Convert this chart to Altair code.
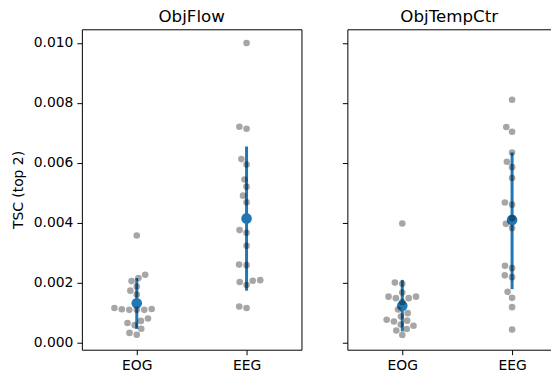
import numpy as np
import pandas as pd
import altair as alt

panels = ["ObjFlow", "ObjTempCtr"]
categories = ["EOG", "EEG"]

eog_flow = [0.00357, 0.00226, 0.00215, 0.00187, 0.00173, 0.00115, 0.00109, 0.00109,
            0.00109, 0.00111, 0.00072, 0.00065, 0.00046, 0.00032, 0.00026,
            0.00205, 0.00160, 0.00112, 0.00080, 0.00058]
eeg_flow = [0.00999, 0.00720, 0.00713, 0.00612, 0.00594, 0.00544, 0.00520, 0.00490,
            0.00468, 0.00375, 0.00366, 0.00323, 0.00260, 0.00258, 0.00202, 0.00192,
            0.00206, 0.00208, 0.00120, 0.00115]
eog_temp = [0.00397, 0.00200, 0.00196, 0.00167, 0.00153, 0.00153, 0.00148, 0.00148,
            0.00135, 0.00110, 0.00098, 0.00087, 0.00076, 0.00073, 0.00070, 0.00060,
            0.00056, 0.00045, 0.00040, 0.00025]
eeg_temp = [0.00810, 0.00719, 0.00703, 0.00634, 0.00603, 0.00585, 0.00549, 0.00467,
            0.00460, 0.00415, 0.00396, 0.00382, 0.00256, 0.00248, 0.00224, 0.00218,
            0.00169, 0.00149, 0.00118, 0.00043]

mean_flow = [0.00131, 0.00414]
lo_flow = [0.00045, 0.00173]
hi_flow = [0.00215, 0.00654]
mean_temp = [0.00123, 0.00409]
lo_temp = [0.00037, 0.00178]
hi_temp = [0.00209, 0.00634]

y_ticks = [0.0, 0.002, 0.004, 0.006, 0.008, 0.010]
y_domain = [-0.00024, 0.01045]
PANEL_W, PANEL_H = 220, 321
X_DOMAIN = [-0.5, 1.5]
PX_PER_X = PANEL_W / (X_DOMAIN[1] - X_DOMAIN[0])
# second panel is cut by the window edge in the reference
PANEL2_W = 204
X_DOMAIN2 = [-0.5, -0.5 + PANEL2_W / PX_PER_X]
DIAM = 7.5
px_per_y = PANEL_H / (y_domain[1] - y_domain[0])


def beeswarm(vals, d):
    y = np.asarray(vals) * px_per_y
    order = np.argsort(y, kind="stable")
    placed = []
    offs = np.zeros(len(y))
    for i in order:
        yi = y[i]
        neigh = [(px, py) for (px, py) in placed if abs(py - yi) < d]
        cands = [0.0]
        for px, py in neigh:
            dx = np.sqrt(max(d * d - (py - yi) ** 2, 0.0))
            cands += [px - dx, px + dx]
        cands = sorted(cands, key=lambda c: abs(c))
        chosen = cands[-1]
        for c in cands:
            if all((c - px) ** 2 + (yi - py) ** 2 >= d * d - 1e-6 for px, py in neigh):
                chosen = c
                break
        offs[i] = chosen
        placed.append((chosen, yi))
    return offs


raw = {("ObjFlow", 0): eog_flow, ("ObjFlow", 1): eeg_flow,
       ("ObjTempCtr", 0): eog_temp, ("ObjTempCtr", 1): eeg_temp}
rows = []
for (p, ci), vals in raw.items():
    offs = beeswarm(vals, DIAM)
    for v, o in zip(vals, offs):
        rows.append({"panel": p, "cat": categories[ci], "xpos": ci + o / PX_PER_X, "value": v})
pts = pd.DataFrame(rows)

stats = pd.DataFrame({
    "panel": ["ObjFlow"] * 2 + ["ObjTempCtr"] * 2,
    "xi": [0, 1, 0, 1],
    "mean": mean_flow + mean_temp,
    "lo": lo_flow + lo_temp,
    "hi": hi_flow + hi_temp,
})

FONT = "DejaVu Sans"
yscale = alt.Scale(domain=y_domain, nice=False, zero=False)


def make_panel(name, first):
    xdom = X_DOMAIN if first else X_DOMAIN2
    width = PANEL_W if first else PANEL2_W
    xscale = alt.Scale(domain=xdom, nice=False, zero=False)
    xaxis = alt.Axis(values=[0, 1], labelExpr="datum.value == 0 ? 'EOG' : 'EEG'",
                     title=None, grid=False, tickSize=5, labelPadding=4, domain=True,
                     domainColor="black", domainWidth=1,
                     labelFontSize=13.9, labelFont=FONT, labelColor="black", tickColor="black")
    if first:
        yaxis = alt.Axis(values=y_ticks, format=".3f", title="TSC (top 2)", grid=False,
                         tickSize=5, labelPadding=4, domain=True, domainColor="black",
                         domainWidth=1, titlePadding=8,
                         labelFontSize=13.9, labelFont=FONT, labelColor="black",
                         titleFontSize=13.9, titleFont=FONT, titleFontWeight="normal",
                         titleColor="black", tickColor="black")
    else:
        yaxis = alt.Axis(values=y_ticks, labels=False, title=None, grid=False,
                         tickSize=5, domain=True, domainColor="black", domainWidth=1,
                         tickColor="black")
    top_axis = alt.Axis(orient="top", labels=False, ticks=False, grid=False, title=None,
                        domain=True, domainColor="black", domainWidth=1)
    right_axis = alt.Axis(orient="right", labels=False, ticks=False, grid=False, title=None,
                          domain=True, domainColor="black", domainWidth=1)
    s = stats[stats.panel == name]
    p = pts[pts.panel == name]
    bars = alt.Chart(s).mark_rule(color="#1f77b4", strokeWidth=3).encode(
        x=alt.X("xi:Q", scale=xscale, axis=xaxis),
        y=alt.Y("lo:Q", scale=yscale, axis=yaxis),
        y2="hi:Q")
    mean = alt.Chart(s).mark_circle(color="#1f77b4", opacity=1, size=113).encode(
        x=alt.X("xi:Q", scale=xscale, axis=None), y=alt.Y("mean:Q", scale=yscale, axis=None))
    dots = alt.Chart(p).mark_circle(color="black", opacity=0.35, size=44).encode(
        x=alt.X("xpos:Q", scale=xscale, axis=None), y=alt.Y("value:Q", scale=yscale, axis=None))
    layers = [bars, mean, dots]
    if first:
        frame = alt.Chart(s).mark_point(opacity=0).encode(
            x=alt.X("xi:Q", scale=xscale, axis=top_axis),
            y=alt.Y("mean:Q", scale=yscale, axis=right_axis))
    else:
        frame = alt.Chart(s).mark_point(opacity=0).encode(
            x=alt.X("xi:Q", scale=xscale, axis=top_axis))
    layers.append(frame)
    return alt.layer(*layers).resolve_axis(
        x="independent", y="independent").properties(
        width=width, height=PANEL_H,
        title=alt.TitleParams(name, fontSize=16.7, fontWeight="normal", font=FONT,
                              color="black", frame="group", anchor="middle", offset=4))


chart = alt.hconcat(make_panel(panels[0], True), make_panel(panels[1], False),
                    spacing=40).properties(
    padding={"left": 3, "top": 0, "right": 0, "bottom": 0}
).configure_view(stroke="transparent", strokeWidth=0)

chart.save("out.html", embed_options={"renderer": "svg", "actions": False})
